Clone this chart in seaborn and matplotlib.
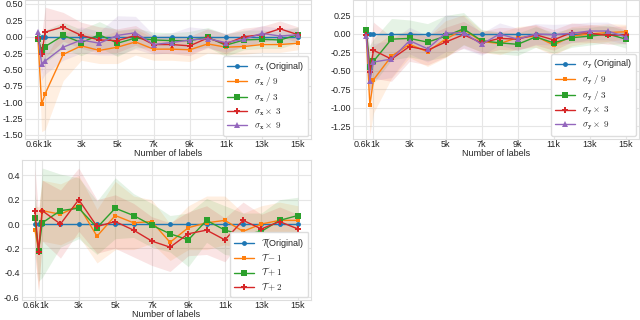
import numpy as np
import matplotlib
matplotlib.use("Agg")
import matplotlib.pyplot as plt
import matplotlib.transforms as mtransforms
import seaborn as sns

# Number of labels (x axis)
n_labels = [600, 800, 1000, 2000, 3000, 4000, 5000, 6000, 7000, 8000,
            9000, 10000, 11000, 12000, 13000, 14000, 15000]
tick_pos = [600, 1000, 3000, 5000, 7000, 9000, 11000, 13000, 15000]
tick_lbl = ["0.6k", "1k", "3k", "5k", "7k", "9k", "11k", "13k", "15k"]

# sigma_x panel: means and band half-widths
sx_orig = [0.0] * 17
sx_div9 = [-0.03, -1.03, -0.87, -0.27, -0.14, -0.21, -0.16, -0.08, -0.19, -0.19,
           -0.20, -0.11, -0.16, -0.15, -0.12, -0.12, -0.10]
sx_div3 = [-0.03, -0.20, -0.15, 0.02, -0.09, 0.03, -0.10, -0.02, -0.05, -0.06,
           -0.06, -0.01, -0.13, -0.05, -0.04, -0.05, 0.03]
sx_mul3 = [-0.02, -0.27, 0.07, 0.15, 0.02, -0.05, -0.06, 0.02, -0.12, -0.12,
           -0.14, -0.02, -0.11, 0.00, 0.03, 0.12, 0.03]
sx_mul9 = [0.07, -0.42, -0.37, -0.16, -0.05, -0.10, 0.02, 0.06, -0.12, -0.09,
           -0.05, -0.03, -0.09, -0.04, 0.05, 0.01, 0.03]
sx_div9_sd = [0.05, 0.42, 0.55, 0.40, 0.22, 0.20, 0.25, 0.20, 0.17, 0.17,
              0.18, 0.14, 0.12, 0.12, 0.12, 0.12, 0.10]
sx_div3_sd = [0.05, 0.25, 0.25, 0.20, 0.20, 0.20, 0.20, 0.15, 0.12, 0.12,
              0.14, 0.15, 0.17, 0.15, 0.14, 0.13, 0.12]
sx_mul3_sd = [0.05, 0.30, 0.38, 0.22, 0.20, 0.20, 0.18, 0.15, 0.13, 0.14,
              0.15, 0.14, 0.15, 0.13, 0.13, 0.12, 0.12]
sx_mul9_sd = [0.10, 0.25, 0.20, 0.20, 0.20, 0.18, 0.30, 0.25, 0.15, 0.15,
              0.20, 0.15, 0.14, 0.12, 0.12, 0.12, 0.10]

# sigma_y panel
sy_orig = [0.0] * 17
sy_div9 = [-0.03, -0.96, -0.62, -0.30, -0.14, -0.24, -0.07, 0.06, -0.10, -0.13,
           -0.05, -0.03, -0.15, -0.03, 0.00, 0.02, 0.03]
sy_div3 = [0.05, -0.45, -0.37, -0.07, -0.06, -0.11, -0.03, 0.07, -0.09, -0.12,
           -0.14, -0.04, -0.12, -0.05, -0.03, 0.00, -0.07]
sy_mul3 = [-0.01, -0.51, -0.22, -0.34, -0.17, -0.22, -0.11, -0.01, -0.12, -0.06,
           -0.07, -0.01, -0.08, 0.02, 0.01, -0.02, -0.01]
sy_mul9 = [-0.03, -0.63, -0.38, -0.34, -0.09, -0.20, 0.01, 0.02, -0.14, 0.00,
           -0.07, 0.00, -0.01, 0.01, 0.04, 0.04, -0.04]
sy_div9_sd = [0.05, 0.40, 0.45, 0.30, 0.18, 0.20, 0.25, 0.20, 0.15, 0.15,
              0.15, 0.15, 0.14, 0.13, 0.12, 0.12, 0.10]
sy_div3_sd = [0.05, 0.30, 0.30, 0.28, 0.25, 0.25, 0.28, 0.22, 0.15, 0.15,
              0.15, 0.14, 0.14, 0.13, 0.12, 0.12, 0.12]
sy_mul3_sd = [0.05, 0.30, 0.38, 0.30, 0.20, 0.20, 0.20, 0.18, 0.15, 0.15,
              0.15, 0.14, 0.14, 0.13, 0.12, 0.12, 0.12]
sy_mul9_sd = [0.10, 0.30, 0.25, 0.25, 0.18, 0.18, 0.25, 0.22, 0.15, 0.15,
              0.15, 0.14, 0.14, 0.13, 0.12, 0.12, 0.10]

# temperature (T) panel
t_orig = [0.0] * 17
t_minus1 = [-0.05, -0.21, 0.11, 0.08, 0.15, -0.10, 0.07, 0.01, 0.02, -0.15,
            -0.03, 0.01, 0.03, -0.06, 0.00, 0.03, 0.03]
t_plus1 = [0.05, -0.22, 0.01, 0.11, 0.13, -0.03, 0.13, 0.07, -0.01, -0.08,
           -0.13, 0.03, -0.05, -0.09, -0.06, 0.03, 0.07]
t_plus2 = [0.11, -0.23, 0.11, 0.00, 0.20, -0.02, 0.02, -0.05, -0.14, -0.19,
           -0.08, -0.05, -0.13, 0.03, -0.04, 0.02, -0.04]
t_minus1_sd = [0.20, 0.35, 0.25, 0.25, 0.25, 0.22, 0.28, 0.22, 0.18, 0.15,
               0.18, 0.22, 0.20, 0.15, 0.15, 0.15, 0.12]
t_plus1_sd = [0.20, 0.25, 0.45, 0.30, 0.25, 0.22, 0.25, 0.18, 0.18, 0.15,
              0.22, 0.18, 0.20, 0.18, 0.15, 0.17, 0.15]
t_plus2_sd = [0.35, 0.32, 0.25, 0.28, 0.26, 0.22, 0.22, 0.22, 0.20, 0.20,
              0.18, 0.20, 0.18, 0.15, 0.12, 0.12, 0.12]

sns.set_theme(style="whitegrid")
plt.rcParams["mathtext.fontset"] = "cm"
plt.rcParams["axes.unicode_minus"] = False
plt.rcParams["font.family"] = ["Liberation Sans", "DejaVu Sans"]
pal = sns.color_palette("tab10")
markers = ["o", "s", "s", "P", "^"]
msizes = [3.5, 3.5, 4.5, 4.5, 4]
FS = 6.5

fig = plt.figure(figsize=(6.4, 3.2), dpi=100)
ax1 = fig.add_axes([0.039, 0.566, 0.447, 0.434])
ax2 = fig.add_axes([0.552, 0.566, 0.446, 0.434])
ax3 = fig.add_axes([0.034, 0.0625, 0.452, 0.4375])


def panel(ax, series, labels, ylim, yticks, fmt):
    for i, (y, sd) in enumerate(series):
        y = np.array(y)
        sns.lineplot(x=n_labels, y=y, ax=ax, color=pal[i], marker=markers[i],
                     markersize=msizes[i], markeredgewidth=0, linewidth=1,
                     label=labels[i])
        if sd is not None:
            sd = np.array(sd)
            ax.fill_between(n_labels, y - sd, y + sd, color=pal[i], alpha=0.12,
                            linewidth=0)
    ax.set_xticks(tick_pos)
    ax.set_xticklabels(tick_lbl)
    ax.set_yticks(yticks)
    ax.set_yticklabels([fmt.format(v) for v in yticks])
    ax.set_ylim(*ylim)
    ax.set_xlim(-120, 15720)
    ax.tick_params(axis="x", labelsize=FS, pad=1, length=0)
    ax.tick_params(axis="y", labelsize=FS, pad=1.5, length=0)
    ax.set_xlabel("Number of labels", fontsize=FS, labelpad=-0.5)
    ax.grid(color="#e6e6e6", linewidth=0.8)
    for s in ax.spines.values():
        s.set_color("#dddddd")
        s.set_linewidth(0.8)
    ax.legend(loc="lower right", fontsize=FS, handlelength=2.2,
              labelspacing=0.28, borderpad=0.45, borderaxespad=0.3,
              framealpha=1, edgecolor="#dddddd", fancybox=True)


panel(ax1,
      [(sx_orig, None), (sx_div9, sx_div9_sd), (sx_div3, sx_div3_sd),
       (sx_mul3, sx_mul3_sd), (sx_mul9, sx_mul9_sd)],
      [r"$\sigma_{\mathbf{x}}$ (Original)", r"$\sigma_{\mathbf{x}}\ /\ 9$",
       r"$\sigma_{\mathbf{x}}\ /\ 3$", r"$\sigma_{\mathbf{x}}\times\ 3$",
       r"$\sigma_{\mathbf{x}}\times\ 9$"],
      (-1.56, 0.56), [-1.5, -1.25, -1.0, -0.75, -0.5, -0.25, 0.0, 0.25, 0.5],
      "{:.2f}")

panel(ax2,
      [(sy_orig, None), (sy_div9, sy_div9_sd), (sy_div3, sy_div3_sd),
       (sy_mul3, sy_mul3_sd), (sy_mul9, sy_mul9_sd)],
      [r"$\sigma_{\mathbf{y}}$ (Original)", r"$\sigma_{\mathbf{y}}\ /\ 9$",
       r"$\sigma_{\mathbf{y}}\ /\ 3$", r"$\sigma_{\mathbf{y}}\times\ 3$",
       r"$\sigma_{\mathbf{y}}\times\ 9$"],
      (-1.42, 0.46), [-1.25, -1.0, -0.75, -0.5, -0.25, 0.0, 0.25],
      "{:.2f}")

panel(ax3,
      [(t_orig, None), (t_minus1, t_minus1_sd), (t_plus1, t_plus1_sd),
       (t_plus2, t_plus2_sd)],
      [r"$\mathcal{T}$(Original)", r"$\mathcal{T}-1$", r"$\mathcal{T}+1$",
       r"$\mathcal{T}+2$"],
      (-0.624, 0.526), [-0.6, -0.4, -0.2, 0.0, 0.2, 0.4],
      "{:.1f}")

# nudge the two crowded tick labels (0.6k, 1k) apart, once ticks are final
fig.canvas.draw()
for ax in (ax1, ax2, ax3):
    ticks = ax.xaxis.get_major_ticks()
    ticks[0].label1.set_transform(ticks[0].label1.get_transform() +
                                  mtransforms.ScaledTranslation(-4 / 100, 0, fig.dpi_scale_trans))
    ticks[1].label1.set_transform(ticks[1].label1.get_transform() +
                                  mtransforms.ScaledTranslation(2 / 100, 0, fig.dpi_scale_trans))

fig.savefig("out.png", dpi=100)
